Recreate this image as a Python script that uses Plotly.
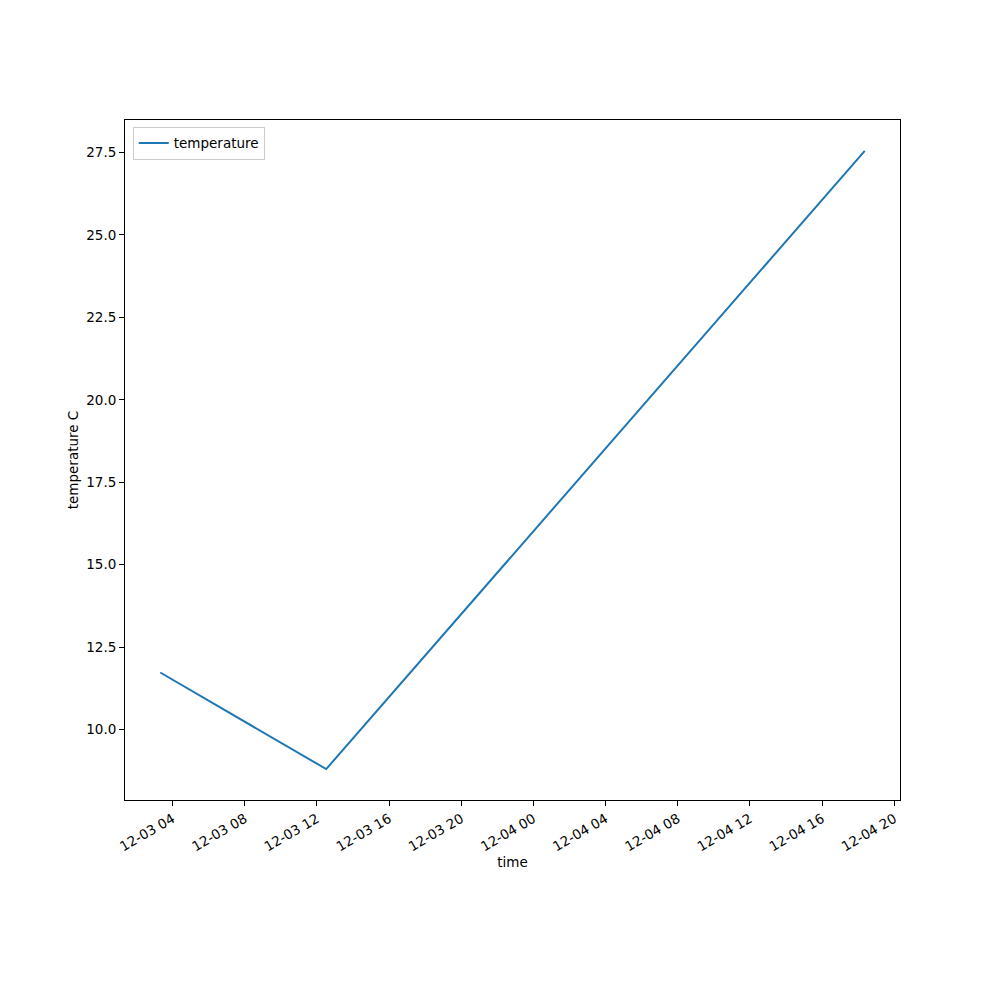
import pandas as pd
import plotly.graph_objects as go

# readings
times = ["2023-12-03 03:19", "2023-12-03 12:31", "2023-12-04 18:22"]
temperature = [11.73, 8.80, 27.55]

t = pd.to_datetime(times)
span = t.max() - t.min()
x_range = [t.min() - 0.05 * span, t.max() + 0.05 * span]
y_span = max(temperature) - min(temperature)
y_range = [min(temperature) - 0.05 * y_span, max(temperature) + 0.05 * y_span]

fig = go.Figure()
fig.add_trace(go.Scatter(
    x=t, y=temperature, mode="lines", name="temperature",
    line=dict(color="#1f77b4", width=2),
))

fig.update_layout(
    width=1000, height=1000,
    template="simple_white",
    plot_bgcolor="white", paper_bgcolor="white",
    font=dict(family="DejaVu Sans", size=13.5, color="black"),
    margin=dict(l=117, r=108, t=112, b=208),
    showlegend=True,
    legend=dict(
        x=0.01, y=0.99, xanchor="left", yanchor="top",
        bgcolor="rgba(255,255,255,0.8)", bordercolor="#cccccc", borderwidth=1,
        font=dict(size=13.5, family="DejaVu Sans"),
    ),
)

fig.update_xaxes(
    range=x_range, title_text="time", title_standoff=4,
    title_font=dict(size=13.5, family="DejaVu Sans"),
    tickfont=dict(size=13.5, family="DejaVu Sans"),
    tick0="2023-12-03 00:00", dtick=4 * 3600 * 1000,
    tickformat="%m-%d %H", tickangle=-30,
    ticks="outside", ticklen=5, tickcolor="black",
    showline=True, linecolor="black", linewidth=1, mirror=True,
    showgrid=False, zeroline=False,
)
fig.update_yaxes(
    range=y_range, title_text="temperature C", title_standoff=4,
    title_font=dict(size=13.5, family="DejaVu Sans"),
    tickfont=dict(size=13.5, family="DejaVu Sans"),
    dtick=2.5, tick0=0, tickformat=".1f",
    ticks="outside", ticklen=5, tickcolor="black",
    showline=True, linecolor="black", linewidth=1, mirror=True,
    showgrid=False, zeroline=False,
)

fig.write_html("out.html")
